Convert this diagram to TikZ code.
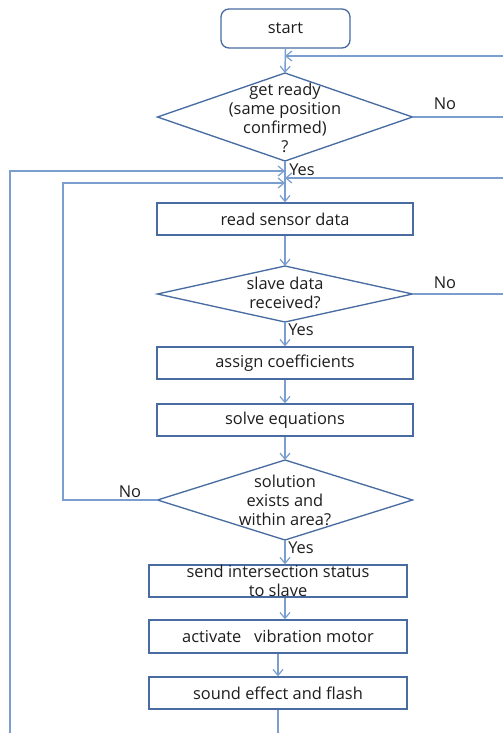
\documentclass[tikz,border=0pt]{standalone}
\usepackage{fontspec}
\setmainfont{Open Sans}
\usetikzlibrary{shapes.geometric,arrows.meta}
\definecolor{linec}{RGB}{122,158,208}
\definecolor{boxc}{RGB}{72,108,162}
\definecolor{txtc}{RGB}{30,30,30}
\tikzset{
  px/.style={x=0.75pt,y=-0.75pt},
  conn/.style={draw=linec,line width=1.1pt},
  arr/.style={conn,-{Straight Barb[length=4.5pt,width=7.5pt,line width=0.9pt]}},
  stepbox/.style={draw=boxc,line width=1pt,rectangle,minimum width=192pt,minimum height=24pt,inner sep=0pt,text=txtc,font=\fontsize{12.3}{14.25}\selectfont,align=center},
  decbox/.style={draw=boxc,line width=1pt,diamond,inner sep=0pt,outer sep=0pt,minimum width=191.25pt},
  dtext/.style={text=txtc,font=\fontsize{12.3}{14.25}\selectfont,align=center,inner sep=0pt},
  lbl/.style={text=txtc,font=\fontsize{12.3}{14.25}\selectfont,inner sep=0pt},
}
\begin{document}
\begin{tikzpicture}[px]
\useasboundingbox[fill=white] (0,0) rectangle (503,733);
% nodes
\node[stepbox,rounded corners=6pt,minimum width=96.75pt,minimum height=29.25pt] (start) at (285.5,28.5) {\raisebox{-1pt}{start}};
\node[decbox,minimum height=66pt] (d1) at (285,117) {};
\node[dtext] (d1t) at (285,118) {get ready\\(same position\\confirmed)\\?};
\node[stepbox] (read) at (285,219) {read sensor data};
\node[decbox,minimum height=42pt] (d2) at (285,294) {};
\node[dtext] (d2t) at (285,293) {slave data\\received?};
\node[stepbox] (assign) at (285,363) {assign coefficients};
\node[stepbox] (solve) at (285,420) {solve equations};
\node[decbox,minimum height=60pt] (d3) at (285,500) {};
\node[dtext] (d3t) at (285,500.5) {solution\\exists and\\within area?};
\node[stepbox,minimum width=193.5pt] (send) at (278,581) {send intersection status\\to slave};
\node[stepbox,minimum width=193.5pt,minimum height=24.75pt] (act) at (278,636.5) {activate\ \ \ vibration motor};
\node[stepbox,minimum width=193.5pt] (snd) at (278,693) {sound effect and flash};
% labels
\node[lbl] (no1) at (445,104) {No};
\node[lbl] (no2) at (445,283) {No};
\node[lbl] (no3) at (130,492) {No};
\node[lbl,anchor=west] (yes1) at (289,170) {Yes};
\node[lbl,anchor=west] (yes2) at (288,330) {Yes};
\node[lbl,anchor=west] (yes3) at (288,548) {Yes};
% junction coordinates
\coordinate (rin1) at (504,56);
\coordinate (rout1) at (504,117);
\coordinate (rin2) at (504,178);
\coordinate (rout2) at (504,294);
\coordinate (lbot) at (10,734);
\coordinate (bot) at (278,734);
\coordinate (j1) at (285,171);
\coordinate (j2) at (285,183);
\coordinate (j3) at (285,178);
\coordinate (lc) at (63,500);
% connectors
\draw[arr] (start.south) -- (d1.north);
\draw[arr] (rin1) -- (d1.north |- rin1);
\draw[conn] (d1.east) -- (rout1);
\draw[arr] (d1.south) -- (read.north);
\draw[arr] (lbot) |- (j1);
\draw[arr] (rin2) -- (j3);
\draw[arr] (d3.west) -- (lc) |- (j2);
\draw[arr] (read.south) -- (d2.north);
\draw[conn] (d2.east) -- (rout2);
\draw[arr] (d2.south) -- (assign.north);
\draw[arr] (assign.south) -- (solve.north);
\draw[arr] (solve.south) -- (d3.north);
\draw[arr] (d3.south) -- (d3.south |- send.north);
\draw[arr] (d3.south |- send.south) -- (d3.south |- act.north);
\draw[arr] (act.south) -- (snd.north);
\draw[conn] (snd.south) -- (bot);
\end{tikzpicture}
\end{document}
